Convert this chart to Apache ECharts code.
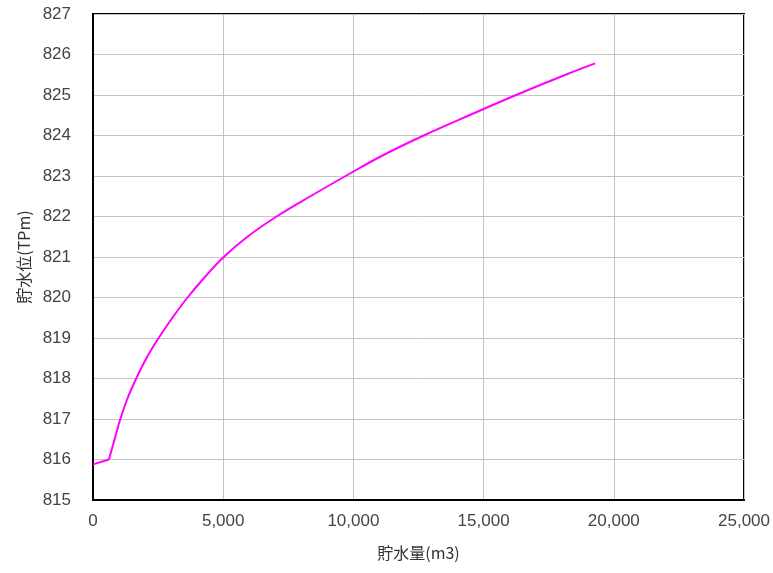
<!DOCTYPE html>
<html>
<head>
<meta charset="utf-8">
<script src="https://cdn.jsdelivr.net/npm/echarts@6/dist/echarts.min.js"></script>
<style>
  html, body { margin: 0; padding: 0; background: #fff; }
  #main { width: 773px; height: 573px; }
</style>
</head>
<body>
<div id="main"></div>
<script>
// 貯水量 (m3)
const volume = [0, 612, 830, 1050, 1320, 1660, 2050, 2520, 3050, 3630, 4290, 5020, 5930, 7050, 8350, 9700, 11100, 12700, 14450, 16250, 18150, 19280]
// 貯水位 (TPm)
const level = [815.88, 816.0, 816.5, 817.0, 817.5, 818.0, 818.5, 819.0, 819.5, 820.0, 820.5, 821.0, 821.5, 822.0, 822.5, 823.0, 823.5, 824.0, 824.5, 825.0, 825.5, 825.78]

const font = '"Noto Sans CJK JP", "Noto Sans", sans-serif'
const numFont = '"Liberation Sans", Arial, sans-serif'

const points = volume.map((v, i) => [v, level[i]])
// the bottom step is a sharp corner, the rest is a smooth curve
const lineStyle = { color: '#ff00ff', width: 2 }

const chart = echarts.init(document.getElementById('main'))
chart.setOption({
  animation: false,
  grid: {
    left: 93,
    right: 27,
    top: 14,
    bottom: 73,
    show: true,
    borderColor: '#000',
    borderWidth: 2,
  },
  xAxis: {
    type: 'value',
    min: 0,
    max: 25000,
    interval: 5000,
    name: '貯水量(m3)',
    nameLocation: 'middle',
    nameGap: 45,
    nameTextStyle: { color: '#333', fontSize: 16, fontFamily: font },
    axisLine: { show: true, onZero: false, lineStyle: { color: '#000', width: 2 } },
    axisTick: { show: false },
    axisLabel: {
      color: '#444',
      fontSize: 17,
      fontFamily: numFont,
      margin: 13,
      formatter: v => v.toLocaleString('en-US'),
    },
    splitLine: { lineStyle: { color: '#c4c4c4', width: 1 } },
  },
  yAxis: {
    type: 'value',
    min: 815,
    max: 827,
    interval: 1,
    name: '貯水位(TPm)',
    nameLocation: 'middle',
    nameGap: 60,
    nameTextStyle: { color: '#333', fontSize: 16, fontFamily: font },
    axisLine: { show: true, lineStyle: { color: '#000', width: 2 } },
    axisTick: { show: false },
    axisLabel: { color: '#444', fontSize: 17, fontFamily: numFont, margin: 22 },
    splitLine: { lineStyle: { color: '#c4c4c4', width: 1 } },
  },
  series: [
    {
      type: 'line',
      data: points.slice(0, 2),
      showSymbol: false,
      lineStyle,
    },
    {
      type: 'line',
      data: points.slice(1),
      showSymbol: false,
      smooth: 0.4,
      lineStyle,
    },
  ],
})
</script>
</body>
</html>
